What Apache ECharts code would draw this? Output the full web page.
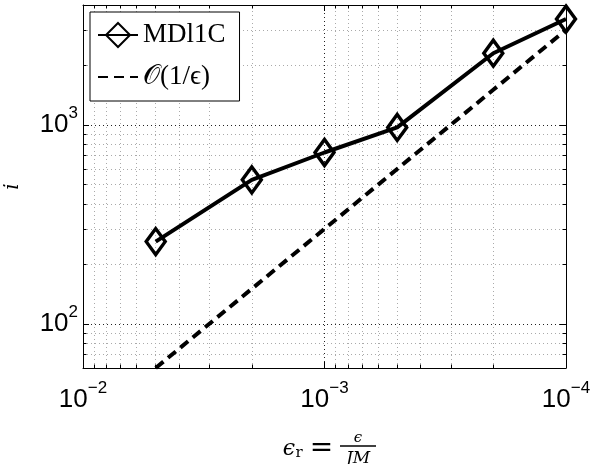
<!DOCTYPE html>
<html>
<head>
<meta charset="utf-8">
<script src="https://cdn.jsdelivr.net/npm/echarts@6/dist/echarts.min.js"></script>
<style>
html,body{margin:0;padding:0;background:#fff;}
#chart{width:593px;height:464px;}
</style>
</head>
<body>
<div id="chart"></div>
<script>
// ---- data ----
const epsR = [5e-3, 2e-3, 1e-3, 5e-4, 2e-4, 1e-4];
const mdl1c = [259, 529, 726, 970, 2290, 3400];
const orderRef = [60, 150, 300, 600, 1500, 3000];
const seriesNames = ['MDl1C', '𝒪(1/ϵ)'];
const xMinor = [2e-4,3e-4,4e-4,5e-4,6e-4,7e-4,8e-4,9e-4,2e-3,3e-3,4e-3,5e-3,6e-3,7e-3,8e-3,9e-3];
const yMinor = [70,80,90,200,300,400,500,600,700,800,900,2000,3000];
const X_MIN = 1e-4, X_MAX = 1e-2, Y_MIN = 60, Y_MAX = 4000;

const KX = Math.pow(10, 3.5/241.5), KY = Math.pow(10, 3.5/199);

function powLabel(v){
  const e = Math.log10(v), r = Math.round(e);
  if (Math.abs(e - r) > 1e-6) return '';
  return '{b|10}{s|' + (r < 0 ? '\u2212' + (-r) : r) + '}';
}
const labelRich = {
  b: {fontFamily:'Liberation Sans', fontSize:26, color:'#000', lineHeight:26, verticalAlign:'bottom'},
  s: {fontFamily:'Liberation Sans', fontSize:17, color:'#000', lineHeight:17, verticalAlign:'bottom', padding:[0,0,16,0]}
};

const gridLines = xMinor.map(v => ({coords:[[v, Y_MIN], [v, Y_MAX]]}))
  .concat(yMinor.map(v => ({coords:[[X_MAX, v], [X_MIN, v]]})));
const minorTicks = [];
xMinor.forEach(v => {
  minorTicks.push({coords:[[v, Y_MIN], [v, Y_MIN*KY]]});
  minorTicks.push({coords:[[v, Y_MAX], [v, Y_MAX/KY]]});
});
yMinor.forEach(v => {
  minorTicks.push({coords:[[X_MAX, v], [X_MAX/KX, v]]});
  minorTicks.push({coords:[[X_MIN, v], [X_MIN*KX, v]]});
});

const axisCommonX = {
  type:'log', logBase:10, min:X_MIN, max:X_MAX, inverse:true,
  axisLine:{show:true, onZero:false, lineStyle:{color:'#000', width:1}},
  axisTick:{show:true, inside:true, length:6, lineStyle:{color:'#000', width:1}}
};
const axisCommonY = {
  type:'log', logBase:10, min:Y_MIN, max:Y_MAX,
  axisLine:{show:true, onZero:false, lineStyle:{color:'#000', width:1}},
  axisTick:{show:true, inside:true, length:6, lineStyle:{color:'#000', width:1}}
};

const chart = echarts.init(document.getElementById('chart'), null, {renderer:'canvas'});
chart.setOption({
  animation:false,
  backgroundColor:'#fff',
  grid:{left:83, right:27, top:5, bottom:96, containLabel:false, outerBoundsMode:'none'},
  xAxis:[
    Object.assign({}, axisCommonX, {
      position:'bottom',
      axisLabel:{show:true, margin:19, formatter:powLabel, rich:labelRich, showMinLabel:true, showMaxLabel:true, hideOverlap:false},
      splitLine:{show:true, lineStyle:{color:'#222', type:[1,3], width:1}}
    }),
    Object.assign({}, axisCommonX, {
      position:'top', axisLabel:{show:false}, splitLine:{show:false}
    })
  ],
  yAxis:[
    Object.assign({}, axisCommonY, {
      position:'left',
      name:'i', nameLocation:'middle', nameRotate:90, nameGap:60,
      nameTextStyle:{fontFamily:'DejaVu Serif', fontStyle:'italic', fontSize:20, color:'#000'},
      axisLabel:{show:true, margin:5, formatter:powLabel, rich:labelRich, hideOverlap:false},
      splitLine:{show:true, lineStyle:{color:'#222', type:[1,3], width:1}}
    }),
    Object.assign({}, axisCommonY, {
      position:'right', axisLabel:{show:false}, splitLine:{show:false}
    })
  ],
  legend:{
    left:90, top:12, orient:'vertical',
    backgroundColor:'#fff', borderColor:'#000', borderWidth:1, borderRadius:0,
    padding:[8,14,9,7], itemGap:12, itemWidth:40, itemHeight:30,
    textStyle:{fontFamily:'Liberation Serif', fontSize:27, color:'#000', lineHeight:30},
    data:[{name:seriesNames[0]}, {name:seriesNames[1], itemStyle:{opacity:0}}]
  },
  series:[
    {
      name:'minorGrid', type:'lines', coordinateSystem:'cartesian2d', silent:true, z:1,
      lineStyle:{color:'#aaa', type:[1,3], width:1, opacity:1},
      data:gridLines
    },
    {
      name:'minorTicks', type:'lines', coordinateSystem:'cartesian2d', silent:true, z:3,
      lineStyle:{color:'#000', type:'solid', width:1, opacity:1},
      data:minorTicks
    },
    {
      name:seriesNames[1], type:'line', z:2,
      data:epsR.map((x,i) => [x, orderRef[i]]),
      symbol:'none', showSymbol:false,
      lineStyle:{color:'#000', width:4, type:[10,6]},
      itemStyle:{color:'#000'}
    },
    {
      name:seriesNames[0], type:'line', z:4,
      data:epsR.map((x,i) => [x, mdl1c[i]]),
      symbol:'diamond', symbolSize:[19,26],
      lineStyle:{color:'#000', width:4},
      itemStyle:{color:'rgba(255,255,255,0)', borderColor:'#000', borderWidth:3.5}
    }
  ],
  graphic:[
    {type:'text', x:289, y:449, style:{text:'ϵ', font:'italic 22px "DejaVu Serif"', fill:'#000', align:'center', verticalAlign:'middle'}},
    {type:'text', x:299, y:453, style:{text:'r', font:'15px "DejaVu Serif"', fill:'#000', align:'center', verticalAlign:'middle'}},
    {type:'text', x:321.5, y:449, style:{text:'=', font:'28px "DejaVu Serif"', fill:'#000', align:'center', verticalAlign:'middle'}},
    {type:'text', x:358, y:438.5, style:{text:'ϵ', font:'italic 15px "DejaVu Serif"', fill:'#000', align:'center', verticalAlign:'middle'}},
    {type:'line', shape:{x1:340, y1:446, x2:376, y2:446}, style:{stroke:'#000', lineWidth:1.5}},
    {type:'text', x:358, y:458.5, style:{text:'JM', font:'italic 17px "DejaVu Serif"', fill:'#000', align:'center', verticalAlign:'middle'}}
  ]
});
</script>
</body>
</html>
